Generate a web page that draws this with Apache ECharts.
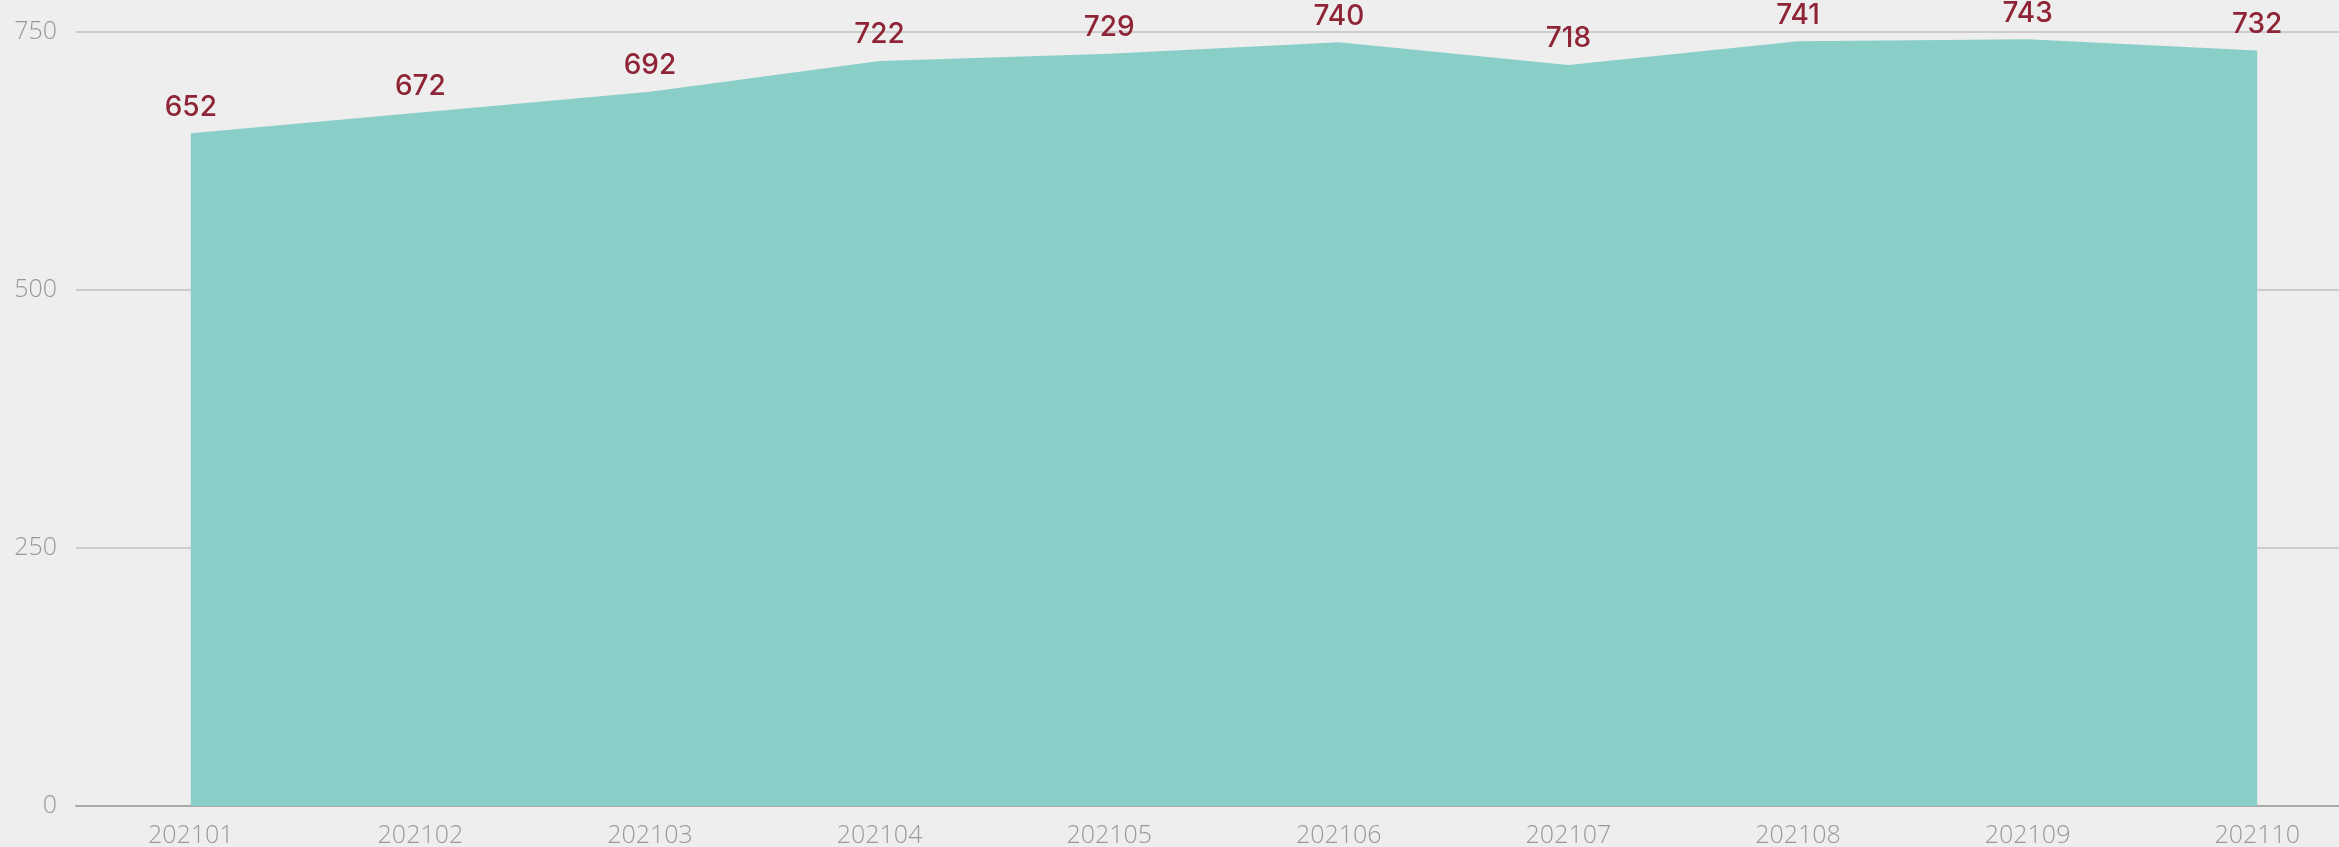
<!DOCTYPE html>
<html>
<head>
<meta charset="utf-8">
<script src="https://cdn.jsdelivr.net/npm/echarts@6/dist/echarts.min.js"></script>
<style>
  html, body { margin: 0; padding: 0; background: #eeeeee; }
  #chart { width: 2339px; height: 847px; }
</style>
</head>
<body>
<div id="chart"></div>
<script>
const months = ['202101', '202102', '202103', '202104', '202105', '202106', '202107', '202108', '202109', '202110']
const counts = [652, 672, 692, 722, 729, 740, 718, 741, 743, 732]
const yTicks = [0, 250, 500, 750]

const chart = echarts.init(document.getElementById('chart'))

chart.setOption({
  backgroundColor: '#eeeeee',
  animation: false,
  grid: {
    left: 76,
    top: 32,
    width: 2296, // 右侧超出画布
    height: 774,
    outerBoundsMode: 'none',
    containLabel: false
  },
  xAxis: {
    type: 'category',
    data: months,
    boundaryGap: true,
    axisLine: {
      lineStyle: { color: '#aaaaaa', width: 2 }
    },
    axisTick: { show: false },
    axisLabel: {
      margin: 17,
      color: '#999999',
      fontFamily: 'Open Sans',
      fontWeight: 300,
      fontSize: 25
    }
  },
  yAxis: {
    type: 'value',
    min: yTicks[0],
    max: yTicks[yTicks.length - 1],
    interval: 250,
    axisLine: { show: false },
    axisTick: { show: false },
    axisLabel: {
      margin: 19,
      color: '#999999',
      fontFamily: 'Open Sans',
      fontWeight: 300,
      fontSize: 25
    },
    splitLine: {
      lineStyle: { color: '#cccccc', width: 2 }
    }
  },
  series: [
    {
      type: 'line',
      data: counts,
      symbol: 'circle',
      symbolSize: 2,
      showSymbol: true,
      itemStyle: { color: 'rgba(0,0,0,0)', borderWidth: 0 },
      lineStyle: { width: 0 },
      areaStyle: { color: '#8acfc7', opacity: 1 },
      label: {
        show: true,
        position: 'top',
        distance: 11,
        color: '#8e2436',
        fontFamily: 'Inter',
        fontWeight: 500,
        fontSize: 28
      }
    }
  ]
})
</script>
</body>
</html>
